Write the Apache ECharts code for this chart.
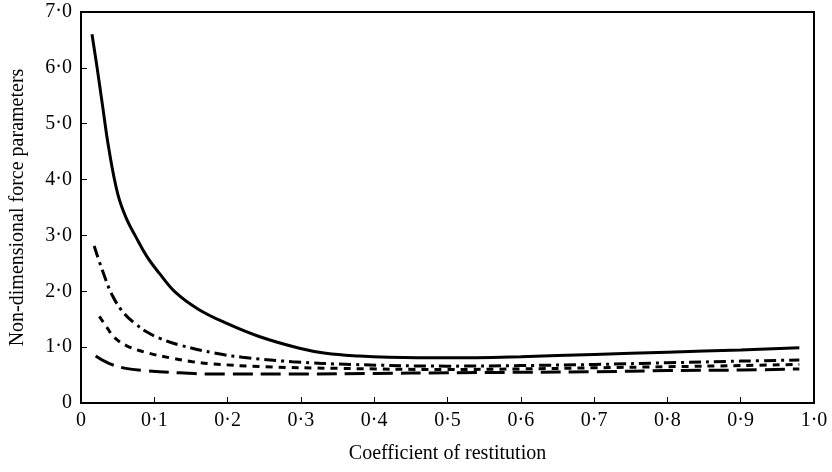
<!DOCTYPE html>
<html>
<head>
<meta charset="utf-8">
<script src="https://cdn.jsdelivr.net/npm/echarts@6/dist/echarts.min.js"></script>
<style>html,body{margin:0;padding:0;background:#fff;}#c{width:832px;height:472px;}</style>
</head>
<body>
<div id="c"></div>
<script>
var xTitle = 'Coefficient of restitution';
var yTitle = 'Non-dimensional force parameters';

var solidX = [0.015,0.022,0.029,0.038,0.05,0.062,0.075,0.09,0.107,0.129,0.16,0.198,0.243,0.298,0.334,0.38,0.42,0.5,0.6,0.7,0.8,0.9,0.98];
var solidY = [6.6,6.0,5.36,4.55,3.75,3.3,2.97,2.62,2.32,1.98,1.68,1.43,1.19,0.98,0.89,0.84,0.82,0.81,0.83,0.87,0.91,0.95,0.99];

var dashDotX = [0.018,0.029,0.043,0.059,0.075,0.09,0.107,0.134,0.184,0.22,0.288,0.37,0.5,0.6,0.7,0.8,0.9,0.98];
var dashDotY = [2.81,2.38,1.92,1.60,1.41,1.27,1.16,1.04,0.89,0.82,0.74,0.69,0.66,0.67,0.69,0.72,0.75,0.77];

var dottedX = [0.025,0.036,0.045,0.063,0.093,0.125,0.152,0.179,0.25,0.35,0.5,0.6,0.7,0.8,0.9,0.98];
var dottedY = [1.55,1.34,1.18,1.02,0.89,0.80,0.74,0.70,0.65,0.62,0.60,0.61,0.63,0.65,0.67,0.69];

var longDashX = [0.02,0.038,0.061,0.088,0.134,0.179,0.3,0.4,0.5,0.6,0.7,0.8,0.9,0.98];
var longDashY = [0.84,0.71,0.62,0.58,0.54,0.52,0.52,0.53,0.54,0.55,0.56,0.58,0.59,0.61];

function pairs(xs, ys){ return xs.map(function(x,i){ return [x, ys[i]]; }); }
function fmt(v){ return Math.abs(v) < 1e-9 ? '0' : v.toFixed(1).replace('.', '\u00B7'); }

var font = 'Liberation Serif';
var chart = echarts.init(document.getElementById('c'), null, {renderer:'canvas'});
chart.setOption({
  animation: false,
  backgroundColor: '#fff',
  grid: {left: 81, right: 18, top: 12, bottom: 69, show: true, borderColor: '#000', borderWidth: 2, backgroundColor: 'transparent'},
  xAxis: {
    type: 'value', min: 0, max: 1, interval: 0.1,
    name: xTitle, nameLocation: 'middle', nameGap: 41,
    nameTextStyle: {fontFamily: font, fontSize: 20, color: '#000'},
    axisLine: {show: true, lineStyle: {color: '#000', width: 2}},
    axisTick: {show: true, inside: true, length: 6, lineStyle: {color: '#000', width: 1}},
    axisLabel: {formatter: fmt, fontFamily: font, fontSize: 20, color: '#000', margin: 8},
    splitLine: {show: false}
  },
  yAxis: {
    type: 'value', min: 0, max: 7, interval: 1,
    name: yTitle, nameLocation: 'middle', nameGap: 53,
    nameTextStyle: {fontFamily: font, fontSize: 20, color: '#000'},
    axisLine: {show: true, lineStyle: {color: '#000', width: 2}},
    axisTick: {show: true, inside: true, length: 6, lineStyle: {color: '#000', width: 1}},
    axisLabel: {formatter: fmt, fontFamily: font, fontSize: 20, color: '#000', margin: 9},
    splitLine: {show: false}
  },
  series: [
    {type: 'line', data: pairs(solidX, solidY), smooth: 0.4, symbol: 'none',
     lineStyle: {color: '#000', width: 3, type: 'solid'}},
    {type: 'line', data: pairs(dashDotX, dashDotY), smooth: 0.4, symbol: 'none',
     lineStyle: {color: '#000', width: 3, type: [12, 5, 3, 5]}},
    {type: 'line', data: pairs(dottedX, dottedY), smooth: 0.4, symbol: 'none',
     lineStyle: {color: '#000', width: 3, type: [7, 6]}},
    {type: 'line', data: pairs(longDashX, longDashY), smooth: 0.4, symbol: 'none',
     lineStyle: {color: '#000', width: 3, type: [20, 8]}}
  ]
});
</script>
</body>
</html>
